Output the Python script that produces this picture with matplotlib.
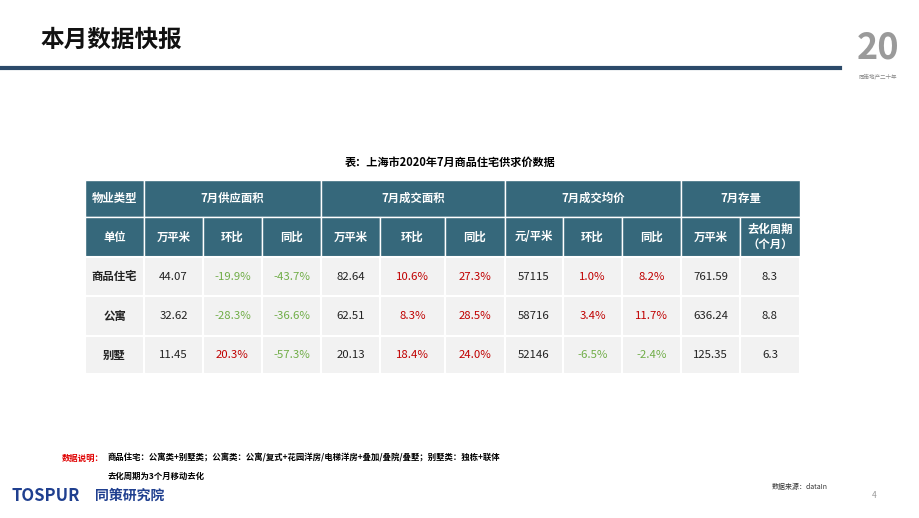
import matplotlib
matplotlib.use("Agg")
import matplotlib.pyplot as plt
from matplotlib.patches import Rectangle

plt.rcParams["font.family"] = "Noto Sans CJK SC"

# data
groups = ["7月供应面积", "7月成交面积", "7月成交均价", "7月存量"]
units = ["万平米", "环比", "同比", "万平米", "环比", "同比", "元/平米", "环比", "同比", "万平米", "去化周期\n（个月）"]
types = ["商品住宅", "公寓", "别墅"]
values = [
    ["44.07", "-19.9%", "-43.7%", "82.64", "10.6%", "27.3%", "57115", "1.0%", "8.2%", "761.59", "8.3"],
    ["32.62", "-28.3%", "-36.6%", "62.51", "8.3%", "28.5%", "58716", "3.4%", "11.7%", "636.24", "8.8"],
    ["11.45", "20.3%", "-57.3%", "20.13", "18.4%", "24.0%", "52146", "-6.5%", "-2.4%", "125.35", "6.3"],
]

HEAD = "#36687b"
CELL = "#f2f2f2"
GREEN = "#70ad47"
RED = "#c00000"

fig = plt.figure(figsize=(9.2, 5.18), dpi=100)
ax = fig.add_axes([0, 0, 1, 1])
ax.set_xlim(0, 920)
ax.set_ylim(518, 0)
ax.axis("off")

# header
ax.text(40, 40, "本月数据快报", fontsize=17, fontweight="bold", va="center", color="#111111")
ax.plot([0, 840], [68, 68], color="#2c4a6a", lw=3)
ax.text(878, 48, "20", fontsize=26, color="#9a9a9a", ha="center", va="center", fontweight="bold")
ax.text(878, 76, "同策地产二十年", fontsize=4, color="#888888", ha="center", va="center")

ax.text(450, 162, "表：上海市2020年7月商品住宅供求价数据", fontsize=8, fontweight="bold",
        ha="center", va="center")

xs = [85, 144, 203, 262, 321, 380, 445, 505, 563, 622, 681, 740, 800]
ys = [180, 217, 257, 296, 336, 374]
FS = 8.2

# header row 1
ax.add_patch(Rectangle((xs[0], ys[0]), xs[1] - xs[0], ys[1] - ys[0], fc=HEAD, ec="white", lw=1))
ax.text((xs[0] + xs[1]) / 2, (ys[0] + ys[1]) / 2, "物业类型", color="white", fontsize=FS,
        fontweight="bold", ha="center", va="center")
spans = [(1, 4), (4, 7), (7, 10), (10, 12)]
for g, (a, b) in zip(groups, spans):
    ax.add_patch(Rectangle((xs[a], ys[0]), xs[b] - xs[a], ys[1] - ys[0], fc=HEAD, ec="white", lw=1))
    ax.text((xs[a] + xs[b]) / 2, (ys[0] + ys[1]) / 2, g, color="white", fontsize=FS,
            fontweight="bold", ha="center", va="center")

# header row 2
row2 = ["单位"] + units
for i, t in enumerate(row2):
    ax.add_patch(Rectangle((xs[i], ys[1]), xs[i + 1] - xs[i], ys[2] - ys[1], fc=HEAD, ec="white", lw=1))
    ax.text((xs[i] + xs[i + 1]) / 2, (ys[1] + ys[2]) / 2, t, color="white", fontsize=FS,
            fontweight="bold", ha="center", va="center", linespacing=1.15)

# body
for r, (name, vals) in enumerate(zip(types, values)):
    y0, y1 = ys[r + 2], ys[r + 3]
    cells = [name] + vals
    for i, t in enumerate(cells):
        ax.add_patch(Rectangle((xs[i], y0), xs[i + 1] - xs[i], y1 - y0, fc=CELL, ec="white", lw=1.5))
        color = "#222222"
        if "%" in t:
            color = GREEN if t.startswith("-") else RED
        ax.text((xs[i] + xs[i + 1]) / 2, (y0 + y1) / 2, t, color=color, fontsize=FS,
                fontweight="bold" if i == 0 else "normal", ha="center", va="center")

# notes
ax.text(62, 458, "数据说明：", color="#e00000", fontsize=6, fontweight="bold", va="center")
ax.text(108, 458, "商品住宅：公寓类+别墅类；公寓类：公寓/复式+花园洋房/电梯洋房+叠加/叠院/叠墅；别墅类：独栋+联体",
        fontsize=6, fontweight="bold", va="center")
ax.text(108, 476, "去化周期为3个月移动去化", fontsize=6, fontweight="bold", va="center")
ax.text(772, 487, "数据来源：dataIn", fontsize=5, va="center", color="#333333")
ax.text(872, 495, "4", fontsize=6, va="center", color="#999999")

ax.text(12, 496, "TOSPUR", fontsize=12, fontweight="bold", fontstyle="italic", color="#1f3f8f", va="center")
ax.text(95, 496, "同策研究院", fontsize=10, fontweight="bold", color="#1f3f8f", va="center")

fig.savefig("out.png", dpi=100)
